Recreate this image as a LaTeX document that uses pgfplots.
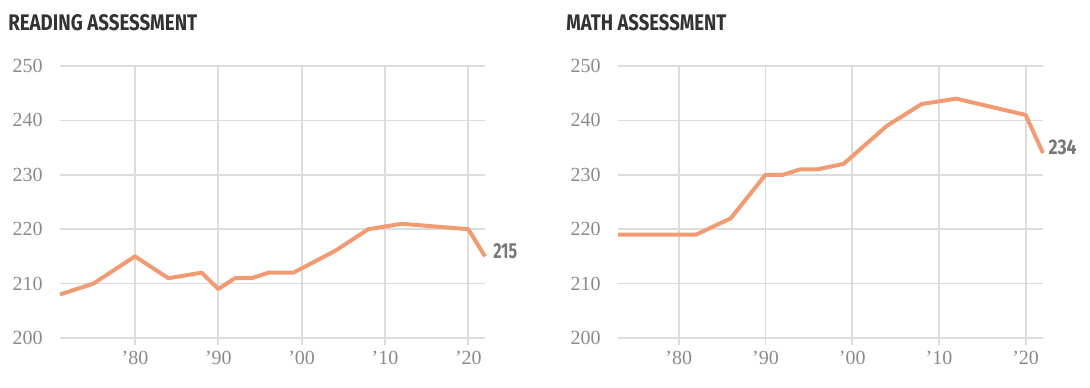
\documentclass[border=0pt]{standalone}
\usepackage{pgfplots}
\pgfplotsset{compat=1.18}
\usepackage{fontspec}
\setmainfont{Liberation Serif}
\newfontfamily\titlefont{Fira Sans}[UprightFont=* Bold]
\definecolor{linec}{HTML}{F29B73}
\definecolor{gridc}{HTML}{DCDCDC}
\definecolor{tickc}{HTML}{8A8A8A}
\definecolor{titlec}{HTML}{333333}
\definecolor{labc}{HTML}{777777}
\pgfplotsset{
  panel/.style={
    scale only axis, width=318.75pt, height=204pt,
    anchor=south west, clip=false,
    ymin=200, ymax=250, ytick={200,210,...,250},
    xtick={1980,1990,2000,2010,2020},
    xticklabels={’80,’90,’00,’10,’20},
    xmajorgrids, ymajorgrids,
    grid style={gridc, line width=1.3pt},
    axis line style={draw=none},
    tick align=outside, xtick pos=bottom, ytick pos=left,
    major tick length=5.5pt,
    xtick style={gridc, line width=1.3pt},
    ytick style={draw=none},
    ticklabel style={font=\fontsize{15}{15}\selectfont, text=tickc},
    yticklabel style={xshift=-4pt},
    xticklabel style={yshift=-1pt},
    /pgf/number format/assume math mode=true,
  }
}
\begin{document}
\begin{tikzpicture}
\path[use as bounding box] (0,0) rectangle (817.5pt,290.25pt);
\node[anchor=south west, inner sep=0pt, text=titlec] at (6pt,267pt) {\resizebox{141.75pt}{12pt}{\titlefont READING ASSESSMENT}};
\node[anchor=south west, inner sep=0pt, text=titlec] at (424.5pt,267pt) {\resizebox{120pt}{12pt}{\titlefont MATH ASSESSMENT}};
\begin{axis}[panel, at={(45pt,36.75pt)}, xmin=1971, xmax=2022]
\addplot[linec, line width=3pt, line join=round] coordinates {
(1971,208) (1975,210) (1980,215) (1984,211) (1988,212) (1990,209) (1992,211) (1994,211) (1996,212) (1999,212) (2004,216) (2008,220) (2012,221) (2020,220) (2022,215)};
\node[anchor=west, inner sep=0pt, text=labc] at (axis cs:2022,216) {\hspace{6pt}\resizebox{18pt}{11.25pt}{\titlefont 215}};
\end{axis}
\begin{axis}[panel, at={(463.5pt,36.75pt)}, xmin=1973, xmax=2022]
\addplot[linec, line width=3pt, line join=round] coordinates {
(1973,219) (1978,219) (1982,219) (1986,222) (1990,230) (1992,230) (1994,231) (1996,231) (1999,232) (2004,239) (2008,243) (2012,244) (2020,241) (2022,234)};
\node[anchor=west, inner sep=0pt, text=labc] at (axis cs:2022,235) {\hspace{4pt}\resizebox{21pt}{11pt}{\titlefont 234}};
\end{axis}
\end{tikzpicture}
\end{document}
